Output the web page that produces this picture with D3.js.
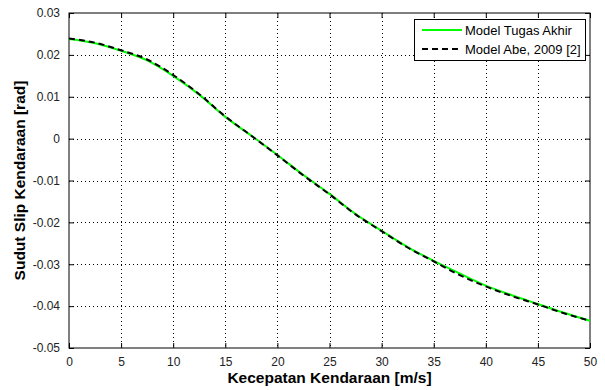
<!DOCTYPE html>
<html>
<head>
<meta charset="utf-8">
<script src="https://cdn.jsdelivr.net/npm/d3@7"></script>
<style>
  body { margin: 0; background: #fff; }
  svg { display: block; font-family: "Liberation Sans", Arial, sans-serif; }
</style>
</head>
<body>
<svg id="chart"></svg>
<script>
// speed [m/s]
const speed = [0, 2.5, 5, 7.5, 10, 12.5, 15, 17.5, 20, 22.5, 25, 27.5, 30, 32.5, 35, 37.5, 40, 42.5, 45, 47.5, 50];
// slip angle [rad], "Model Tugas Akhir"
const tugasAkhir = [0.0238, 0.0228, 0.0210, 0.0187, 0.0150, 0.0105, 0.0052, 0.0007, -0.0039, -0.0087, -0.0132, -0.0180, -0.0220, -0.0259, -0.0292, -0.0322, -0.0351, -0.0374, -0.0395, -0.0416, -0.0435];
// slip angle [rad], "Model Abe, 2009 [2]"
const abe = [0.0239, 0.0229, 0.0211, 0.0189, 0.0152, 0.0106, 0.0053, 0.0007, -0.0040, -0.0088, -0.0133, -0.0181, -0.0221, -0.0260, -0.0293, -0.0326, -0.0353, -0.0376, -0.0396, -0.0417, -0.0435];

const xTicks = [0, 5, 10, 15, 20, 25, 30, 35, 40, 45, 50];
const yTicks = [-0.05, -0.04, -0.03, -0.02, -0.01, 0, 0.01, 0.02, 0.03];

const width = 605, height = 390;
const margin = {left: 69, right: 15, top: 13, bottom: 42};

const svg = d3.select("#chart").attr("width", width).attr("height", height);

const x = d3.scaleLinear().domain([0, 50]).range([margin.left, width - margin.right]);
const y = d3.scaleLinear().domain([-0.05, 0.03]).range([height - margin.bottom, margin.top]);

const fmtY = d => d === 0 ? "0" : d3.format(".2f")(d).replace("−", "-");

// grid
const grid = svg.append("g").attr("stroke", "#000").attr("stroke-width", 1)
  .attr("stroke-dasharray", "1,3").attr("shape-rendering", "crispEdges");
grid.selectAll(".gx").data(xTicks.slice(1, -1)).enter().append("line")
  .attr("x1", d => Math.round(x(d)) + 0.5).attr("x2", d => Math.round(x(d)) + 0.5)
  .attr("y1", y(0.03)).attr("y2", y(-0.05));
grid.selectAll(".gy").data(yTicks.slice(1, -1)).enter().append("line")
  .attr("y1", d => Math.round(y(d)) + 0.5).attr("y2", d => Math.round(y(d)) + 0.5)
  .attr("x1", x(0)).attr("x2", x(50));

// axes (ticks inward, box on)
const tickStyle = g => {
  g.select(".domain").remove();
  g.selectAll("text").attr("fill", "#222").attr("font-size", "12px");
  g.selectAll("line").attr("stroke", "#000");
};
svg.append("g").attr("transform", `translate(0,${y(-0.05)})`)
  .call(d3.axisBottom(x).tickValues(xTicks).tickSizeInner(-5).tickPadding(9).tickFormat(d3.format("d")))
  .call(tickStyle);
svg.append("g").attr("transform", `translate(0,${y(0.03)})`)
  .call(d3.axisTop(x).tickValues(xTicks).tickSizeInner(-5).tickFormat(""))
  .call(tickStyle);
svg.append("g").attr("transform", `translate(${x(0)},0)`)
  .call(d3.axisLeft(y).tickValues(yTicks).tickSizeInner(-5).tickPadding(9).tickFormat(fmtY))
  .call(tickStyle);
svg.append("g").attr("transform", `translate(${x(50)},0)`)
  .call(d3.axisRight(y).tickValues(yTicks).tickSizeInner(-5).tickFormat(""))
  .call(tickStyle);

svg.append("rect")
  .attr("x", x(0)).attr("y", y(0.03))
  .attr("width", x(50) - x(0)).attr("height", y(-0.05) - y(0.03))
  .attr("fill", "none").attr("stroke", "#000").attr("stroke-width", 1);

// curves
const line = vals => d3.line().x((d, i) => x(speed[i])).y(d => y(d)).curve(d3.curveMonotoneX)(vals);
svg.append("path").attr("d", line(tugasAkhir))
  .attr("fill", "none").attr("stroke", "#00ff00").attr("stroke-width", 2);
svg.append("path").attr("d", line(abe))
  .attr("fill", "none").attr("stroke", "#000").attr("stroke-width", 2)
  .attr("stroke-dasharray", "6,4");

// axis labels
svg.append("text").attr("x", (x(0) + x(50)) / 2).attr("y", 383)
  .attr("text-anchor", "middle").attr("font-size", "15.5px").attr("font-weight", "bold")
  .text("Kecepatan Kendaraan [m/s]");
svg.append("text").attr("transform", `translate(25,${(y(0.03) + y(-0.05)) / 2}) rotate(-90)`)
  .attr("text-anchor", "middle").attr("font-size", "15.5px").attr("font-weight", "bold")
  .text("Sudut Slip Kendaraan [rad]");

// legend
const legend = svg.append("g");
legend.append("rect").attr("x", 414.5).attr("y", 19.5).attr("width", 171).attr("height", 41)
  .attr("fill", "#fff").attr("stroke", "#000");
const entries = [
  {name: "Model Tugas Akhir", color: "#00ff00", dash: null},
  {name: "Model Abe, 2009 [2]", color: "#000", dash: "6,4"}
];
entries.forEach((e, i) => {
  const yy = 30 + i * 19;
  legend.append("line").attr("x1", 422).attr("x2", 462).attr("y1", yy).attr("y2", yy)
    .attr("stroke", e.color).attr("stroke-width", 2).attr("stroke-dasharray", e.dash);
  legend.append("text").attr("x", 465).attr("y", yy + 4.5).attr("font-size", "13px")
    .attr("fill", "#000").text(e.name);
});
</script>
</body>
</html>
